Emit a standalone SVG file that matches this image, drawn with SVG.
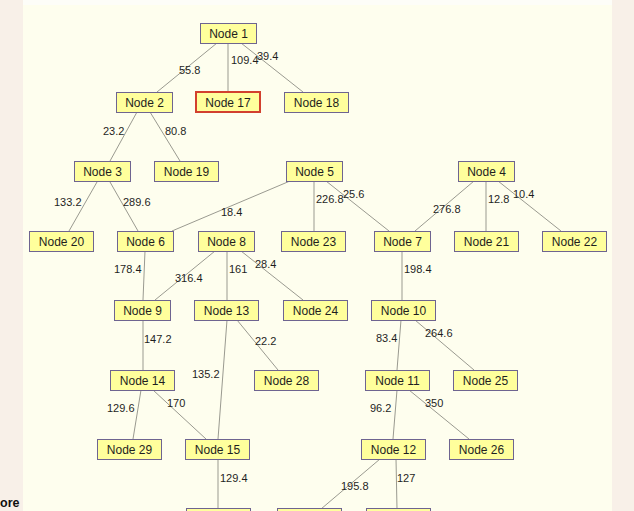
<svg xmlns="http://www.w3.org/2000/svg" width="634" height="511" viewBox="0 0 634 511">
  <style>
    .node rect { fill: #ffff9c; stroke: #6e6490; stroke-width: 1; }
    .node.sel rect { stroke: #d2402e; stroke-width: 2; }
    .node text { font-family: "Liberation Sans", Arial, sans-serif; font-size: 12px; fill: #1e1e1e; text-anchor: middle; }
    .edges line { stroke: #9a9a90; stroke-width: 1; }
    .edges text { font-family: "Liberation Sans", Arial, sans-serif; font-size: 11px; fill: #1e1e1e; }
  </style>

  <!-- canvas backdrop -->
  <rect x="0" y="0" width="634" height="511" fill="#f8f0e8"/>
  <rect x="23" y="0" width="589" height="5" fill="#fdfdf8"/>
  <rect x="23" y="5" width="589" height="506" fill="#fefeee"/>
  <text x="0" y="507" font-family="Liberation Sans, Arial, sans-serif" font-size="12.5" font-weight="bold" fill="#111">ore</text>

  <g class="edges" id="connectors">
    <line x1="217" y1="43" x2="157" y2="92"/>
    <line x1="228" y1="43" x2="228" y2="92"/>
    <line x1="241" y1="43" x2="303" y2="92"/>
    <line x1="137" y1="112" x2="110" y2="161"/>
    <line x1="150" y1="112" x2="180" y2="161"/>
    <line x1="97" y1="182" x2="69" y2="231"/>
    <line x1="110" y1="182" x2="138" y2="231"/>
    <line x1="290" y1="181" x2="172" y2="231"/>
    <line x1="314" y1="181" x2="314" y2="231"/>
    <line x1="326" y1="181" x2="389" y2="231"/>
    <line x1="474" y1="181" x2="415" y2="231"/>
    <line x1="486" y1="181" x2="486" y2="231"/>
    <line x1="498" y1="181" x2="561" y2="231"/>
    <line x1="145" y1="251" x2="143" y2="300"/>
    <line x1="215" y1="251" x2="155" y2="300"/>
    <line x1="227" y1="251" x2="227" y2="300"/>
    <line x1="241" y1="251" x2="303" y2="300"/>
    <line x1="402" y1="251" x2="402" y2="300"/>
    <line x1="143" y1="320" x2="143" y2="370"/>
    <line x1="227" y1="320" x2="218" y2="439"/>
    <line x1="237" y1="320" x2="278" y2="370"/>
    <line x1="401" y1="320" x2="397" y2="370"/>
    <line x1="415" y1="320" x2="474" y2="370"/>
    <line x1="141" y1="390" x2="133" y2="439"/>
    <line x1="153" y1="390" x2="206" y2="439"/>
    <line x1="397" y1="390" x2="393" y2="439"/>
    <line x1="409" y1="390" x2="469" y2="439"/>
    <line x1="218" y1="459" x2="218" y2="509"/>
    <line x1="380" y1="459" x2="321" y2="509"/>
    <line x1="396" y1="459" x2="397" y2="509"/>

    <text x="179" y="74">55.8</text>
    <text x="231" y="64">109.4</text>
    <text x="257" y="60">39.4</text>
    <text x="103" y="135">23.2</text>
    <text x="165" y="135">80.8</text>
    <text x="54" y="206">133.2</text>
    <text x="123" y="206">289.6</text>
    <text x="221" y="216">18.4</text>
    <text x="316" y="203">226.8</text>
    <text x="343" y="198">25.6</text>
    <text x="433" y="213">276.8</text>
    <text x="488" y="203">12.8</text>
    <text x="513" y="198">10.4</text>
    <text x="114" y="273">178.4</text>
    <text x="175" y="282">316.4</text>
    <text x="229" y="273">161</text>
    <text x="255" y="268">28.4</text>
    <text x="404" y="273">198.4</text>
    <text x="144" y="343">147.2</text>
    <text x="255" y="345">22.2</text>
    <text x="192" y="378">135.2</text>
    <text x="376" y="342">83.4</text>
    <text x="425" y="337">264.6</text>
    <text x="107" y="412">129.6</text>
    <text x="167" y="407">170</text>
    <text x="370" y="412">96.2</text>
    <text x="425" y="407">350</text>
    <text x="220" y="482">129.4</text>
    <text x="341" y="490">195.8</text>
    <text x="397" y="482">127</text>
  </g>

  <g id="node1" class="node"><rect x="200.5" y="23.5" width="56" height="20"/><text x="228.5" y="38">Node 1</text></g>
  <g id="node2" class="node"><rect x="116.5" y="92.5" width="56" height="20"/><text x="144.5" y="107">Node 2</text></g>
  <g id="node17" class="node sel"><rect x="196" y="92" width="64" height="20"/><text x="228" y="107">Node 17</text></g>
  <g id="node18" class="node"><rect x="284.5" y="92.5" width="64" height="20"/><text x="316.5" y="107">Node 18</text></g>
  <g id="node3" class="node"><rect x="74.5" y="161.5" width="56" height="20"/><text x="102.5" y="176">Node 3</text></g>
  <g id="node19" class="node"><rect x="154.5" y="161.5" width="64" height="20"/><text x="186.5" y="176">Node 19</text></g>
  <g id="node5" class="node"><rect x="286.5" y="161.5" width="56" height="20"/><text x="314.5" y="176">Node 5</text></g>
  <g id="node4" class="node"><rect x="458.5" y="161.5" width="56" height="20"/><text x="486.5" y="176">Node 4</text></g>
  <g id="node20" class="node"><rect x="29.5" y="231.5" width="64" height="20"/><text x="61.5" y="246">Node 20</text></g>
  <g id="node6" class="node"><rect x="117.5" y="231.5" width="56" height="20"/><text x="145.5" y="246">Node 6</text></g>
  <g id="node8" class="node"><rect x="198.5" y="231.5" width="56" height="20"/><text x="226.5" y="246">Node 8</text></g>
  <g id="node23" class="node"><rect x="281.5" y="231.5" width="64" height="20"/><text x="313.5" y="246">Node 23</text></g>
  <g id="node7" class="node"><rect x="374.5" y="231.5" width="56" height="20"/><text x="402.5" y="246">Node 7</text></g>
  <g id="node21" class="node"><rect x="454.5" y="231.5" width="64" height="20"/><text x="486.5" y="246">Node 21</text></g>
  <g id="node22" class="node"><rect x="542.5" y="231.5" width="64" height="20"/><text x="574.5" y="246">Node 22</text></g>
  <g id="node9" class="node"><rect x="114.5" y="300.5" width="56" height="20"/><text x="142.5" y="315">Node 9</text></g>
  <g id="node13" class="node"><rect x="194.5" y="300.5" width="64" height="20"/><text x="226.5" y="315">Node 13</text></g>
  <g id="node24" class="node"><rect x="283.5" y="300.5" width="64" height="20"/><text x="315.5" y="315">Node 24</text></g>
  <g id="node10" class="node"><rect x="371.5" y="300.5" width="64" height="20"/><text x="403.5" y="315">Node 10</text></g>
  <g id="node14" class="node"><rect x="110.5" y="370.5" width="64" height="20"/><text x="142.5" y="385">Node 14</text></g>
  <g id="node28" class="node"><rect x="254.5" y="370.5" width="64" height="20"/><text x="286.5" y="385">Node 28</text></g>
  <g id="node11" class="node"><rect x="365.5" y="370.5" width="64" height="20"/><text x="397.5" y="385">Node 11</text></g>
  <g id="node25" class="node"><rect x="453.5" y="370.5" width="64" height="20"/><text x="485.5" y="385">Node 25</text></g>
  <g id="node29" class="node"><rect x="97.5" y="439.5" width="64" height="20"/><text x="129.5" y="454">Node 29</text></g>
  <g id="node15" class="node"><rect x="185.5" y="439.5" width="64" height="20"/><text x="217.5" y="454">Node 15</text></g>
  <g id="node12" class="node"><rect x="361.5" y="439.5" width="64" height="20"/><text x="393.5" y="454">Node 12</text></g>
  <g id="node26" class="node"><rect x="449.5" y="439.5" width="64" height="20"/><text x="481.5" y="454">Node 26</text></g>
  <g id="node16" class="node"><rect x="186.5" y="508.5" width="64" height="20"/></g>
  <g id="node27" class="node"><rect x="277.5" y="508.5" width="64" height="20"/></g>
  <g id="node30" class="node"><rect x="366.5" y="508.5" width="64" height="20"/></g>
</svg>
